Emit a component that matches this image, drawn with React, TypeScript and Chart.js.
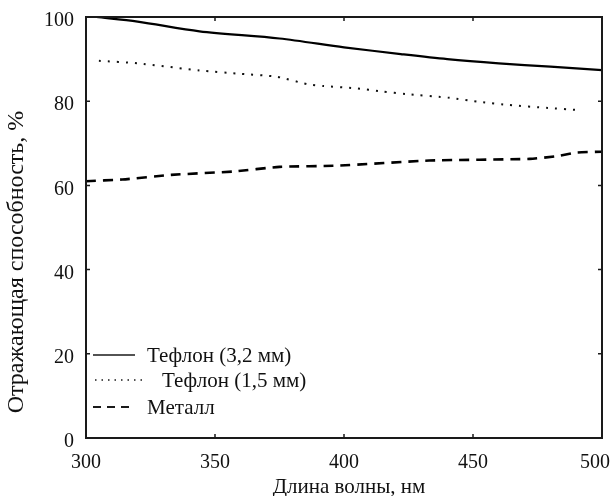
import React, { useEffect, useRef } from "react";
import { Chart, registerables } from "chart.js";

Chart.register(...registerables);

const xTicks = [300, 350, 400, 450, 500];
const yTicks = [0, 20, 40, 60, 80, 100];

const teflon32X = [304, 320, 344, 375, 400, 422, 440, 460, 480, 500];
const teflon32Y = [100, 98.9, 96.6, 94.9, 92.8, 91.2, 90.0, 89.0, 88.2, 87.4];

const teflon15X = [305, 320, 344, 360, 374, 386, 392, 404, 415, 424, 441, 453, 464, 479, 491];
const teflon15Y = [89.6, 89.0, 87.3, 86.5, 85.8, 84.0, 83.6, 83.1, 82.3, 81.7, 80.8, 79.8, 79.1, 78.4, 77.9];

const metalX = [300, 314, 333, 357, 375, 398, 433, 472, 483, 490, 500];
const metalY = [61.0, 61.4, 62.5, 63.3, 64.4, 64.7, 65.9, 66.3, 67.0, 67.8, 68.0];

const seriesNames = ["Тефлон (3,2 мм)", "Тефлон (1,5 мм)", "Металл"];
const xTitle = "Длина волны, нм";
const yTitle = "Отражающая способность, %";

const FONT = "'Liberation Serif', 'Times New Roman', serif";
const LAST_X = xTicks[xTicks.length - 1];

const toPts = (xs: number[], ys: number[]) => xs.map((x, i) => ({ x, y: ys[i] }));

const decor = {
  id: "decor",
  afterDraw(chart: any) {
    const ctx = chart.ctx;
    const a = chart.chartArea;
    const xs = chart.scales.x;
    const ys = chart.scales.y;
    ctx.save();
    // frame
    ctx.strokeStyle = "#1a1a1a";
    ctx.lineWidth = 2;
    ctx.strokeRect(a.left, a.top, a.right - a.left, a.bottom - a.top);
    // inward ticks
    ctx.lineWidth = 1.5;
    ctx.beginPath();
    [350, 400, 450].forEach((v) => {
      const px = xs.getPixelForValue(v);
      ctx.moveTo(px, a.bottom);
      ctx.lineTo(px, a.bottom - 4);
      ctx.moveTo(px, a.top);
      ctx.lineTo(px, a.top + 4);
    });
    [20, 40, 60, 80].forEach((v) => {
      const py = ys.getPixelForValue(v);
      ctx.moveTo(a.left, py);
      ctx.lineTo(a.left + 4, py);
      ctx.moveTo(a.right, py);
      ctx.lineTo(a.right - 4, py);
    });
    ctx.stroke();

    ctx.fillStyle = "#111";
    // last x tick label, nudged inside the window
    ctx.font = `20px ${FONT}`;
    ctx.textAlign = "center";
    ctx.textBaseline = "middle";
    ctx.fillText(String(LAST_X), xs.getPixelForValue(LAST_X) - 7, a.bottom + 25);

    // titles
    ctx.font = `21px ${FONT}`;
    ctx.textAlign = "center";
    ctx.textBaseline = "alphabetic";
    ctx.fillText(xTitle, 349, 493);
    ctx.save();
    ctx.translate(17, 262);
    ctx.rotate(-Math.PI / 2);
    ctx.font = `24px ${FONT}`;
    ctx.textBaseline = "middle";
    ctx.fillText(yTitle, 0, 0);
    ctx.restore();

    // legend
    const rows = [
      { y: 355, x0: 93, x1: 135, tx: 147, dash: [] as number[], w: 1.5 },
      { y: 380, x0: 95, x1: 142, tx: 162, dash: [1.5, 5], w: 1.5 },
      { y: 407, x0: 93, x1: 135, tx: 147, dash: [8, 6], w: 1.8 },
    ];
    ctx.textAlign = "left";
    ctx.textBaseline = "middle";
    ctx.font = `21px ${FONT}`;
    rows.forEach((r, i) => {
      ctx.beginPath();
      ctx.setLineDash(r.dash);
      ctx.lineWidth = r.w;
      ctx.moveTo(r.x0, r.y);
      ctx.lineTo(r.x1, r.y);
      ctx.stroke();
      ctx.setLineDash([]);
      ctx.fillText(seriesNames[i], r.tx, r.y + 1);
    });
    ctx.restore();
  },
};

export default function App() {
  const ref = useRef<HTMLCanvasElement | null>(null);
  useEffect(() => {
    if (!ref.current) return;
    const chart = new Chart(ref.current, {
      type: "line",
      data: {
        datasets: [
          {
            label: seriesNames[0],
            data: toPts(teflon32X, teflon32Y),
            borderColor: "#000",
            borderWidth: 2.2,
            pointRadius: 0,
            tension: 0.3,
          },
          {
            label: seriesNames[1],
            data: toPts(teflon15X, teflon15Y),
            borderColor: "#111",
            borderWidth: 2,
            borderDash: [2, 7],
            pointRadius: 0,
            tension: 0.2,
          },
          {
            label: seriesNames[2],
            data: toPts(metalX, metalY),
            borderColor: "#000",
            borderWidth: 2.6,
            borderDash: [10, 7],
            pointRadius: 0,
            tension: 0.2,
          },
        ],
      },
      options: {
        responsive: false,
        animation: false,
        layout: { padding: { top: 17, right: 14, left: 0, bottom: 0 } },
        plugins: { legend: { display: false }, tooltip: { enabled: false } },
        scales: {
          x: {
            type: "linear",
            min: 300,
            max: 500,
            afterBuildTicks: (s: any) => {
              s.ticks = xTicks.map((v) => ({ value: v }));
            },
            afterFit: (s: any) => {
              s.height = 58;
              s.paddingLeft = 0;
              s.paddingRight = 0;
            },
            grid: { display: false, drawTicks: false },
            border: { display: false },
            ticks: {
              color: "#111",
              padding: 13,
              font: { family: FONT, size: 20 },
              callback: (v: any) => (v === LAST_X ? "" : String(v)),
            },
          },
          y: {
            min: 0,
            max: 100,
            afterBuildTicks: (s: any) => {
              s.ticks = yTicks.map((v) => ({ value: v }));
            },
            afterFit: (s: any) => {
              s.width = 86;
              s.paddingTop = 0;
              s.paddingBottom = 0;
            },
            grid: { display: false, drawTicks: false },
            border: { display: false },
            ticks: {
              color: "#111",
              padding: 12,
              labelOffset: 4,
              font: { family: FONT, size: 20 },
            },
          },
        },
      },
      plugins: [decor],
    });
    return () => chart.destroy();
  }, []);
  return (
    <div style={{ position: "fixed", left: 0, top: 0 }}>
      <canvas ref={ref} width={616} height={496} style={{ display: "block" }} />
    </div>
  );
}
